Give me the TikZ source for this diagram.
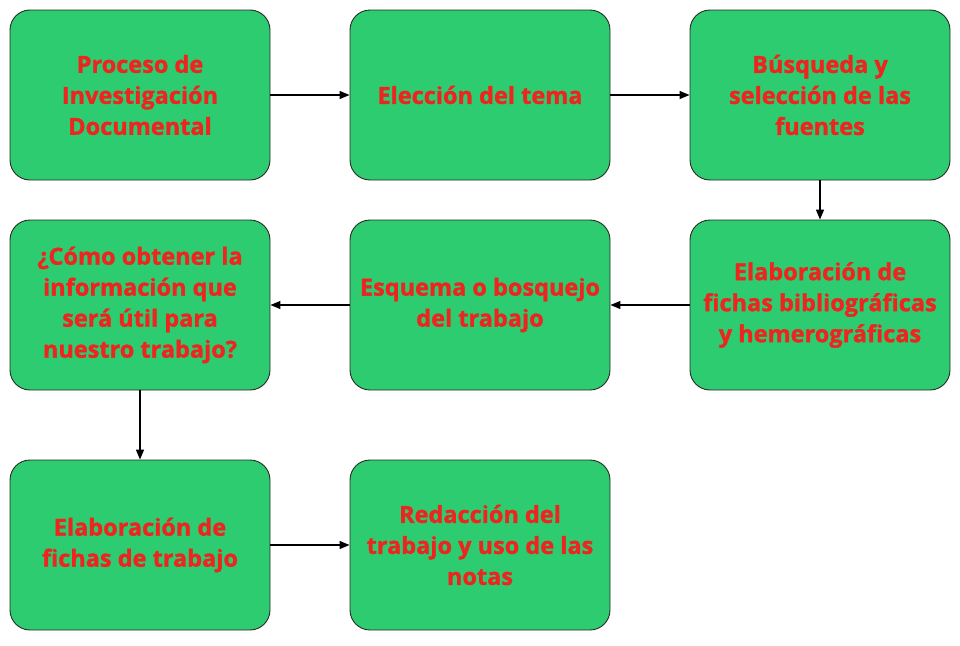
\documentclass[tikz,border=0pt]{standalone}
\usepackage{fontspec}
\setmainfont{Open Sans}[BoldFont={* Bold}, BoldFeatures={FakeBold=1.2}]
\usetikzlibrary{arrows.meta}
\definecolor{boxgreen}{RGB}{46,204,113}
\definecolor{txtred}{RGB}{238,36,30}
\definecolor{edge}{RGB}{40,40,40}
\tikzset{
  stepbox/.style={draw=edge, line width=0.9pt, fill=boxgreen, rounded corners=20pt,
    minimum width=260pt, minimum height=170pt, inner sep=0pt, align=center,
    text=txtred, font=\fontsize{23.5pt}{31pt}\selectfont\bfseries},
  conn/.style={draw=black, line width=1.3pt, -{Triangle[length=10pt,width=8pt]}}
}
\begin{document}
\begin{tikzpicture}[x=1pt,y=-1pt]
\useasboundingbox (0,0) rectangle (960,645);
\node[stepbox] (a) at (140,95) {Proceso de\\Investigación\\Documental};
\node[stepbox] (b) at (480,95) {Elección del tema};
\node[stepbox] (c) at (820,95) {Búsqueda y\\selección de las\\fuentes};
\node[stepbox] (d) at (820,305) {Elaboración de\\fichas bibliográficas\\y hemerográficas};
\node[stepbox] (e) at (480,305) {Esquema o bosquejo\\del trabajo};
\node[stepbox] (f) at (140,305) {¿Cómo obtener la\\información que\\será útil para\\nuestro trabajo?};
\node[stepbox] (g) at (140,545) {Elaboración de\\fichas de trabajo};
\node[stepbox] (h) at (480,545) {Redacción del\\trabajo y uso de las\\notas};
\draw[conn] (a) -- (b);
\draw[conn] (b) -- (c);
\draw[conn] (c) -- (d);
\draw[conn] (d) -- (e);
\draw[conn] (e) -- (f);
\draw[conn] (f) -- (g);
\draw[conn] (g) -- (h);
\end{tikzpicture}
\end{document}
